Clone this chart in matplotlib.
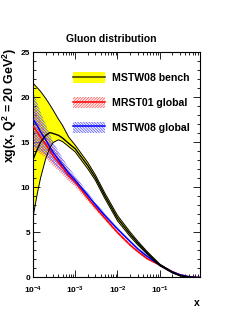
import matplotlib
matplotlib.use("Agg")

import matplotlib.pyplot as plt
from matplotlib.patches import Patch
from matplotlib.lines import Line2D
from matplotlib.ticker import FixedLocator, LogLocator, FuncFormatter
import numpy as np

plt.rcParams["font.family"] = ["Liberation Sans", "DejaVu Sans"]
plt.rcParams["font.weight"] = "bold"
plt.rcParams["mathtext.fontset"] = "custom"
plt.rcParams["mathtext.rm"] = "Liberation Sans:bold"
plt.rcParams["mathtext.bf"] = "Liberation Sans:bold"
plt.rcParams["mathtext.default"] = "bf"
plt.rcParams["hatch.linewidth"] = 0.6

# x grid (shared by all curves)
x = [1e-4, 1.25e-4, 1.5e-4, 2e-4, 2.5e-4, 3e-4, 4e-4, 5e-4, 7e-4, 1e-3,
     2e-3, 3e-3, 5e-3, 1e-2, 2e-2, 3e-2, 5e-2, 0.1, 0.2, 0.3, 0.5, 0.7, 0.9]

# MSTW08 bench: central value and band edges
bench = [13.1, 14.2, 15.0, 15.8, 16.1, 16.0, 15.8, 15.5, 14.9, 14.3,
         12.4, 11.1, 9.1, 6.6, 4.8, 3.85, 2.75, 1.4, 0.55, 0.22, 0.03, 0.0, 0.0]
bench_lo = [6.7, 9.2, 11.0, 13.2, 14.4, 15.0, 15.3, 15.1, 14.55, 13.95,
            12.05, 10.8, 8.8, 6.3, 4.55, 3.65, 2.6, 1.3, 0.5, 0.19, 0.02, 0.0, 0.0]
bench_hi = [21.6, 21.1, 20.7, 19.9, 19.2, 18.6, 17.6, 16.9, 15.6, 14.7,
            12.75, 11.4, 9.4, 6.9, 5.05, 4.05, 2.9, 1.5, 0.6, 0.25, 0.04, 0.0, 0.0]

# MRST01 global: central value and half-width of the band
mrst = [16.8, 16.2, 15.6, 14.8, 14.1, 13.5, 12.8, 12.2, 11.3, 10.6,
        8.8, 7.8, 6.6, 5.0, 3.6, 2.9, 2.1, 1.38, 0.65, 0.32, 0.08, 0.01, 0.0]
mrst_err = [2.5, 2.2, 1.9, 1.5, 1.3, 1.1, 0.9, 0.75, 0.6, 0.5,
            0.35, 0.28, 0.24, 0.2, 0.17, 0.15, 0.12, 0.08, 0.05, 0.03, 0.02, 0.0, 0.0]

# MSTW08 global
mstw = [17.6, 16.9, 16.2, 15.3, 14.5, 13.9, 13.1, 12.5, 11.6, 10.8,
        9.1, 8.1, 6.9, 5.4, 4.0, 3.2, 2.35, 1.4, 0.62, 0.3, 0.07, 0.01, 0.0]
mstw_err = [3.0, 2.6, 2.2, 1.7, 1.4, 1.2, 0.95, 0.8, 0.6, 0.5,
            0.35, 0.28, 0.24, 0.2, 0.17, 0.15, 0.12, 0.08, 0.05, 0.03, 0.02, 0.0, 0.0]

labels = ["MSTW08 bench", "MRST01 global", "MSTW08 global"]

x = np.array(x)
mrst = np.array(mrst)
mrst_err = np.array(mrst_err)
mstw = np.array(mstw)
mstw_err = np.array(mstw_err)

fig = plt.figure(figsize=(2.49, 3.23), dpi=100)
ax = fig.add_axes([0.1325, 0.1409, 0.6707, 0.6966])

yellow = "#ffff00"
red_h = "#ff6060"
blue_h = "#6060ff"
hatch_r = "/" * 12
hatch_b = "\\" * 12

ax.fill_between(x, bench_lo, bench_hi, facecolor=yellow, edgecolor="none", zorder=1)
ax.fill_between(x, mrst - mrst_err, mrst + mrst_err, facecolor="none",
                edgecolor=red_h, hatch=hatch_r, linewidth=0, zorder=2)
ax.fill_between(x, mstw - mstw_err, mstw + mstw_err, facecolor="none",
                edgecolor=blue_h, hatch=hatch_b, linewidth=0, zorder=2)
ax.plot(x, mrst, color="red", lw=1.1, zorder=3)
ax.plot(x, mstw, color="blue", lw=1.1, zorder=3)
ax.plot(x, bench_lo, color="black", lw=0.7, zorder=4)
ax.plot(x, bench_hi, color="black", lw=0.7, zorder=4)
ax.plot(x, bench, color="black", lw=1.0, zorder=4)

ax.set_xscale("log")
ax.set_xlim(1e-4, 0.9)
ax.set_ylim(0, 25)
ax.yaxis.set_major_locator(FixedLocator([0, 5, 10, 15, 20, 25]))
ax.yaxis.set_minor_locator(FixedLocator(range(0, 26)))
ax.xaxis.set_major_locator(LogLocator(base=10, numticks=10))
ax.xaxis.set_minor_locator(LogLocator(base=10, subs=np.arange(2, 10), numticks=10))
ax.xaxis.set_major_formatter(FuncFormatter(lambda v, p: r"$\mathbf{10^{%d}}$" % round(np.log10(v))))
ax.tick_params(which="both", direction="in", top=True, right=True, labelsize=6, width=0.6)
ax.tick_params(which="major", length=5)
ax.tick_params(which="minor", length=2.5)
ax.tick_params(axis="y", pad=2)
ax.tick_params(axis="x", pad=5)
for s in ax.spines.values():
    s.set_linewidth(0.8)

handles = [
    (Patch(facecolor=yellow, edgecolor="none"), Line2D([], [], color="#404000", lw=1.2)),
    (Patch(facecolor="none", edgecolor=red_h, hatch=hatch_r, linewidth=0), Line2D([], [], color="red", lw=1.1)),
    (Patch(facecolor="none", edgecolor=blue_h, hatch=hatch_b, linewidth=0), Line2D([], [], color="blue", lw=1.1)),
]
ax.legend(handles, labels, loc="upper left", bbox_to_anchor=(0.2395, 0.913), frameon=False,
          fontsize=7.6, handlelength=3.05, handleheight=1.25, labelspacing=1.3,
          handletextpad=0.65, borderpad=0, borderaxespad=0)

fig.text(111 / 249, 1 - 39 / 323, "Gluon distribution", ha="center", va="center", fontsize=7.5)
fig.text(10 / 249, 1 - 48 / 323, r"xg(x, Q$^{2}$ = 20 GeV$^{2}$)", rotation=90,
         ha="center", va="top", fontsize=9)
fig.text(197 / 249, 1 - 303 / 323, "x", ha="center", va="center", fontsize=7.5)

fig.savefig("out.png", dpi=100)
